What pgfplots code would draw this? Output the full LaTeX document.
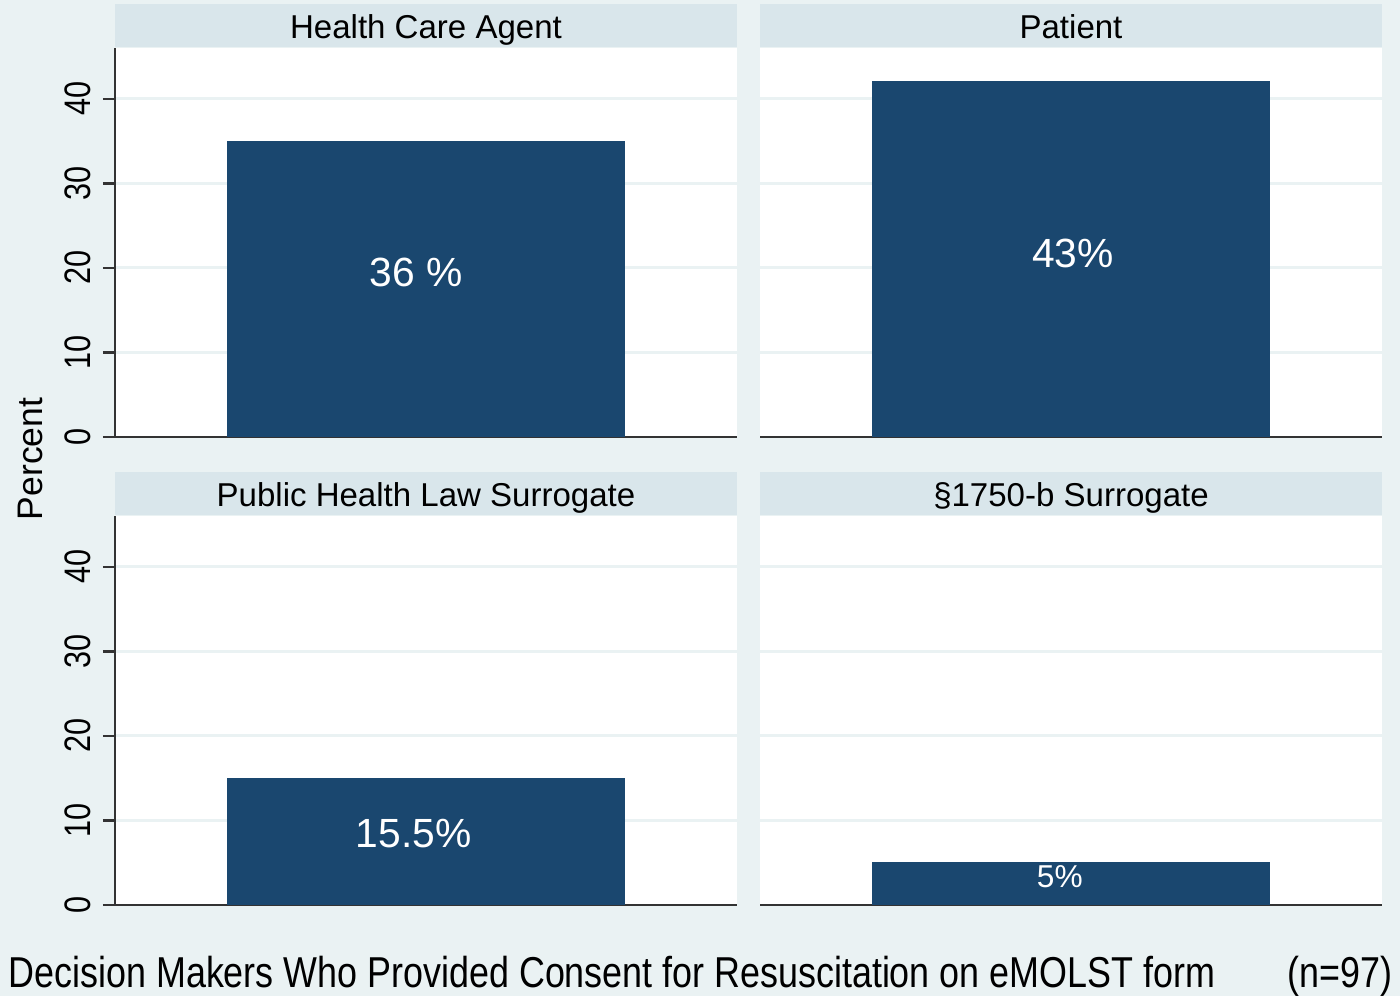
\documentclass[border=0pt]{standalone}
\usepackage{fontspec}
\setmainfont{Liberation Sans}
\newfontfamily\narrowfont{Liberation Sans}[FakeStretch=0.83]
\usepackage{pgfplots}
\pgfplotsset{compat=1.18}
\definecolor{bgc}{HTML}{EAF2F3}
\definecolor{stripc}{HTML}{D9E6EB}
\definecolor{barc}{HTML}{1A476F}
\definecolor{gridc}{HTML}{EAF2F3}
\definecolor{axc}{HTML}{333333}

\tikzset{lab/.style={text=white, anchor=base, inner sep=0pt}}
\pgfplotsset{
  every axis title shift=0pt,
  panel/.style={
    scale only axis, width=6.22cm, height=3.89cm, anchor=south west,
    xmin=0, xmax=1, ymin=0, ymax=46,
    axis x line=bottom, axis y line=left,
    x axis line style={-, draw=axc, line width=0.7pt},
    y axis line style={-, draw=axc, line width=0.7pt},
    xtick=\empty,
    ytick={0,10,20,30,40},
    ytick pos=left,
    tick align=outside,
    major tick length=0.12cm,
    ytick style={draw=axc, line width=0.7pt},
    ymajorgrids,
    grid style={draw=gridc, line width=0.8pt},
    axis background/.style={fill=white},
    /pgf/number format/assume math mode=true,
    yticklabel style={rotate=90, anchor=south, font=\narrowfont\fontsize{10.5}{12}\selectfont},
    title style={at={(0.5,1)}, anchor=south, fill=stripc,
      minimum width=6.22cm, minimum height=0.435cm, inner sep=0pt,
      text height=0.72em, text depth=0pt,
      font=\fontsize{9.4}{11}\selectfont},
  },
  rightpanel/.style={
    y axis line style={draw=none},
    yticklabels={},
    ytick style={draw=none},
  },
  barstyle/.style={ybar, fill=barc, draw=none, bar width=0.64},
}

\begin{document}
\begin{tikzpicture}
\fill[bgc] (0,0) rectangle (14,-9.96);

\begin{axis}[panel, at={(1.15cm,-4.37cm)}, title={Health Care Agent}]
  \addplot[barstyle] coordinates {(0.5,35)};
  \node[lab, font=\fontsize{11.6}{13}\selectfont] at (axis cs:0.484,17.75) {36 \%};
\end{axis}

\begin{axis}[panel, rightpanel, at={(7.60cm,-4.37cm)}, title={Patient}]
  \addplot[barstyle] coordinates {(0.5,42.1)};
  \node[lab, font=\fontsize{11.6}{13}\selectfont] at (axis cs:0.503,20.0) {43\%};
\end{axis}

\begin{axis}[panel, at={(1.15cm,-9.05cm)}, title={Public Health Law Surrogate}]
  \addplot[barstyle] coordinates {(0.5,15)};
  \node[lab, font=\fontsize{11.6}{13}\selectfont] at (axis cs:0.48,6.84) {15.5\%};
\end{axis}

\begin{axis}[panel, rightpanel, at={(7.60cm,-9.05cm)}, title={\S1750-b Surrogate}]
  \addplot[barstyle] coordinates {(0.5,5.1)};
  \node[lab, font=\fontsize{9}{10}\selectfont] at (axis cs:0.482,2.12) {5\%};
\end{axis}

\node[rotate=90, font=\fontsize{10.1}{12}\selectfont, inner sep=0pt] at (0.30,-4.59) {Percent};
\node[anchor=base west, inner sep=0pt, font=\narrowfont\fontsize{12.3}{14}\selectfont] at (0.08,-9.87) {Decision Makers Who Provided Consent for Resuscitation on eMOLST form};
\node[anchor=base east, inner sep=0pt, font=\narrowfont\fontsize{12.3}{14}\selectfont] at (13.93,-9.87) {(n=97)};
\end{tikzpicture}
\end{document}
